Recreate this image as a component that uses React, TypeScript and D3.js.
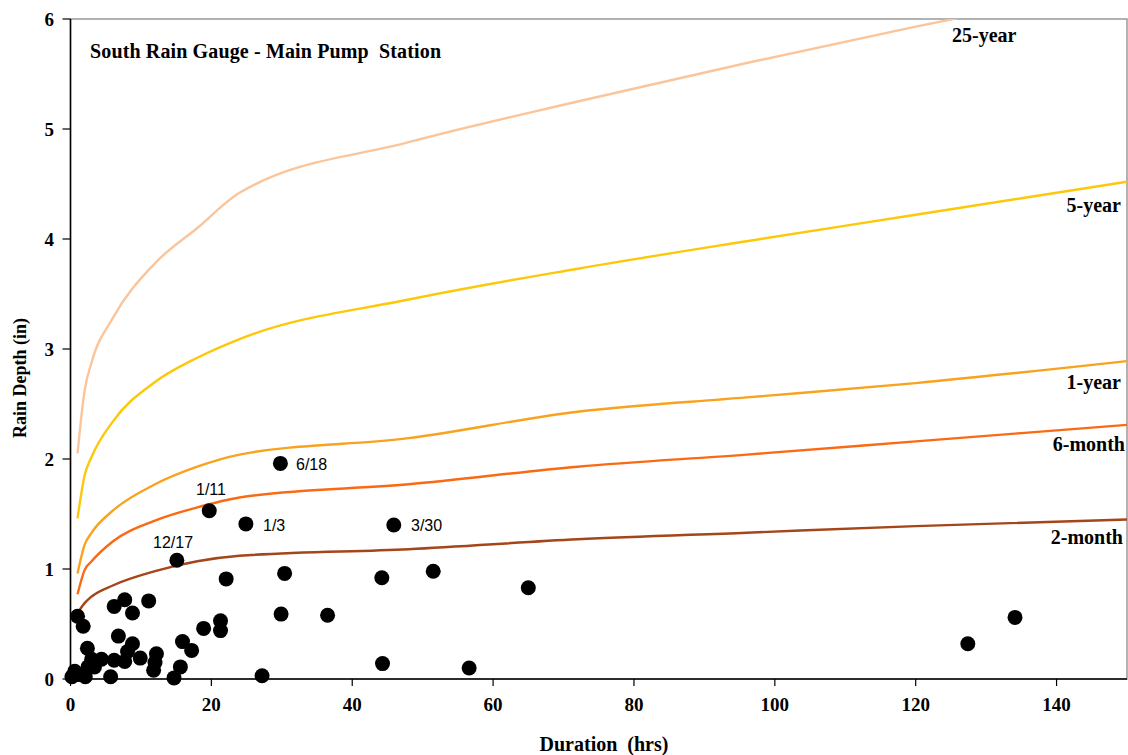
import React from "react";
import * as d3 from "d3";

const durations = [1, 2, 3, 6, 12, 18, 24, 48, 72, 96, 120, 150];
const twoMonth = [0.6, 0.69, 0.75, 0.85, 0.98, 1.07, 1.12, 1.18, 1.27, 1.33, 1.39, 1.45];
const sixMonth = [0.77, 0.99, 1.07, 1.25, 1.44, 1.56, 1.65, 1.77, 1.93, 2.04, 2.16, 2.31];
const oneYear = [0.96, 1.22, 1.33, 1.53, 1.77, 1.93, 2.04, 2.19, 2.43, 2.56, 2.69, 2.89];
const fiveYear = [1.46, 1.85, 2.02, 2.34, 2.7, 2.92, 3.09, 3.45, 3.73, 3.98, 4.22, 4.52];
const twentyFiveYear = [2.05, 2.62, 2.88, 3.28, 3.78, 4.1, 4.42, 4.88, 5.25, 5.6, 5.93, 6.32];

const seriesNames = ["2-month", "6-month", "1-year", "5-year", "25-year"];
const seriesValues = [twoMonth, sixMonth, oneYear, fiveYear, twentyFiveYear];
const seriesColors = ["#A4451A", "#FA6A14", "#F9A21E", "#FCC80A", "#FBC59B"];

const eventLabels = ["6/18", "1/11", "1/3", "3/30", "12/17"];
const eventX = [29.8, 19.7, 24.9, 45.9, 15.1];
const eventY = [1.96, 1.53, 1.41, 1.4, 1.08];

const stormX = [22.1, 30.4, 44.2, 51.5, 65.0, 127.4, 134.1, 29.9, 36.5, 21.3, 21.3, 18.9, 15.9, 17.2, 15.6, 14.7, 27.2, 44.3, 56.6, 1.0, 1.8, 6.2, 7.7, 8.8, 11.1, 6.8, 8.8, 2.4, 12.2, 12.0, 11.8, 9.9, 8.1, 7.7, 6.2, 4.4, 3.0, 3.4, 2.5, 0.6, 0.2, 2.1, 5.7, 1.2];
const stormY = [0.91, 0.96, 0.92, 0.98, 0.83, 0.32, 0.56, 0.59, 0.58, 0.53, 0.44, 0.46, 0.34, 0.26, 0.11, 0.01, 0.03, 0.14, 0.1, 0.57, 0.48, 0.66, 0.72, 0.6, 0.71, 0.39, 0.32, 0.28, 0.23, 0.15, 0.08, 0.19, 0.25, 0.16, 0.17, 0.18, 0.18, 0.11, 0.11, 0.07, 0.02, 0.02, 0.02, 0.04];

const xTicks = [0, 20, 40, 60, 80, 100, 120, 140];
const yTicks = [0, 1, 2, 3, 4, 5, 6];

const W = 1128;
const H = 755;
const left = 70.5;
const right = 1127;
const top = 19;
const bottom = 679;

const serif = "'Liberation Serif', 'Times New Roman', serif";
const sans = "'Liberation Sans', Arial, sans-serif";

export default function App() {
  const x = d3.scaleLinear().domain([0, 150]).range([left, right]);
  const y = d3.scaleLinear().domain([0, 6]).range([bottom, top]);
  const line = d3
    .line<[number, number]>()
    .x((d) => x(d[0]))
    .y((d) => y(d[1]))
    .curve(d3.curveMonotoneX);

  const curveLabels = [
    { name: "2-month", x: 1123, y: 544, anchor: "end" },
    { name: "6-month", x: 1125, y: 451, anchor: "end" },
    { name: "1-year", x: 1121, y: 389, anchor: "end" },
    { name: "5-year", x: 1121, y: 212, anchor: "end" },
    { name: "25-year", x: 952, y: 42, anchor: "start" },
  ];

  const eventLabelPos = [
    [296, 470],
    [196, 495],
    [263, 531],
    [411, 531],
    [153, 548],
  ];

  return (
    <svg
      width={W}
      height={H}
      style={{ position: "absolute", left: 0, top: 0, background: "#fff" }}
    >
      <defs>
        <clipPath id="plot">
          <rect x={left} y={top} width={right - left} height={bottom - top} />
        </clipPath>
      </defs>
      <rect x={0} y={0} width={W} height={H} fill="#fff" />
      <rect
        x={left}
        y={top}
        width={right - left}
        height={bottom - top}
        fill="none"
        stroke="#999"
        strokeWidth={1.5}
      />
      <g clipPath="url(#plot)">
        {seriesValues.map((vals, i) => (
          <path
            key={seriesNames[i]}
            d={line(durations.map((d, j) => [d, vals[j]] as [number, number])) || ""}
            fill="none"
            stroke={seriesColors[i]}
            strokeWidth={2.4}
          />
        ))}
      </g>
      {stormX.map((v, i) => (
        <circle key={"s" + i} cx={x(v)} cy={y(stormY[i])} r={7.5} fill="#000" />
      ))}
      {eventX.map((v, i) => (
        <circle key={"e" + i} cx={x(v)} cy={y(eventY[i])} r={7.5} fill="#000" />
      ))}
      <line x1={left} x2={left} y1={top} y2={bottom} stroke="#000" strokeWidth={1.5} />
      <line x1={left} x2={right} y1={bottom} y2={bottom} stroke="#000" strokeWidth={1.5} />
      {yTicks.map((t) => (
        <g key={"yt" + t}>
          <line x1={left - 8} x2={left} y1={y(t)} y2={y(t)} stroke="#000" strokeWidth={1.2} />
          <text
            x={54}
            y={y(t)}
            dy="0.35em"
            textAnchor="end"
            fontFamily={serif}
            fontWeight="bold"
            fontSize={19}
            fill="#000"
          >
            {t}
          </text>
        </g>
      ))}
      {xTicks.map((t) => (
        <g key={"xt" + t}>
          <line x1={x(t)} x2={x(t)} y1={bottom} y2={bottom + 7} stroke="#000" strokeWidth={1.2} />
          <text
            x={x(t)}
            y={711}
            textAnchor="middle"
            fontFamily={serif}
            fontWeight="bold"
            fontSize={19}
            fill="#000"
          >
            {t}
          </text>
        </g>
      ))}
      {eventLabels.map((lab, i) => (
        <text
          key={lab}
          x={eventLabelPos[i][0]}
          y={eventLabelPos[i][1]}
          fontFamily={sans}
          fontSize={16}
          fill="#000"
        >
          {lab}
        </text>
      ))}
      {curveLabels.map((c) => (
        <text
          key={c.name}
          x={c.x}
          y={c.y}
          textAnchor={c.anchor as any}
          fontFamily={serif}
          fontWeight="bold"
          fontSize={20}
          fill="#000"
        >
          {c.name}
        </text>
      ))}
      <text
        x={90}
        y={58}
        fontFamily={serif}
        fontWeight="bold"
        fontSize={20}
        fill="#000"
        textLength={351}
        lengthAdjust="spacing"
        style={{ whiteSpace: "pre" }}
      >
        South Rain Gauge - Main Pump  Station
      </text>
      <text
        x={604}
        y={751}
        textAnchor="middle"
        fontFamily={serif}
        fontWeight="bold"
        fontSize={20}
        fill="#000"
        style={{ whiteSpace: "pre" }}
      >
        Duration  (hrs)
      </text>
      <text
        transform="translate(26,378) rotate(-90)"
        textAnchor="middle"
        fontFamily={serif}
        fontWeight="bold"
        fontSize={18}
        fill="#000"
      >
        Rain Depth (in)
      </text>
    </svg>
  );
}
